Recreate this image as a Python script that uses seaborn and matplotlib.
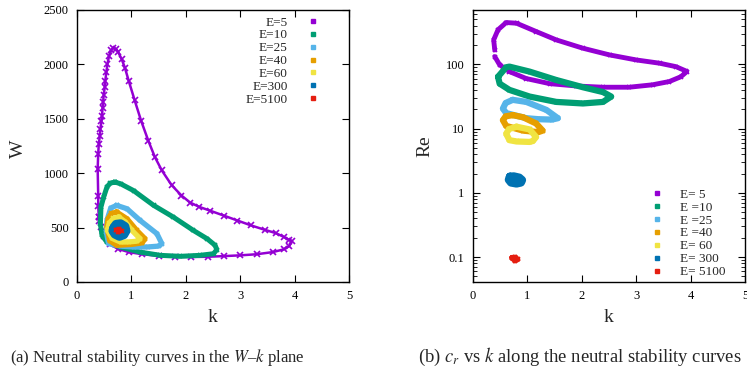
import numpy as np
import pandas as pd
import matplotlib
matplotlib.use("Agg")
import matplotlib.pyplot as plt
from matplotlib.lines import Line2D
from matplotlib.ticker import FixedLocator, NullFormatter, LogLocator
import seaborn as sns

# ---------------- data ----------------
energies = ["5", "10", "25", "40", "60", "300", "5100"]
colors = ["#9400D3", "#009E73", "#56B4E9", "#E69F00", "#F0E442", "#0072B2", "#E51E10"]
labels_a = ["E=5", "E=10", "E=25", "E=40", "E=60", "E=300", "E=5100"]
labels_b = ["E= 5", "E =10", "E =25", "E =40", "E= 60", "E= 300", "E= 5100"]

# panel (a): W vs k
k5_a = [0.40, 0.39, 0.39, 0.38, 0.39, 0.40, 0.42, 0.43, 0.45, 0.46, 0.47, 0.48, 0.49, 0.51,
        0.52, 0.54, 0.56, 0.59, 0.63, 0.67, 0.72, 0.76, 0.82, 0.88, 0.95, 1.06, 1.18, 1.31,
        1.43, 1.56, 1.74, 1.92, 2.08, 2.25, 2.45, 2.70, 2.95, 3.20, 3.45, 3.65, 3.80, 3.90,
        3.95, 3.90, 3.80, 3.60, 3.30, 3.00, 2.70, 2.40, 2.10, 1.80, 1.50, 1.20, 0.95, 0.75,
        0.60, 0.50, 0.44, 0.41, 0.40]
W5_a = [600, 700, 790, 1040, 1180, 1265, 1345, 1410, 1480, 1530, 1600, 1650, 1715, 1790,
        1850, 1930, 2005, 2080, 2130, 2155, 2140, 2110, 2050, 1970, 1850, 1670, 1480, 1300,
        1150, 1025, 890, 795, 730, 690, 655, 610, 565, 520, 480, 450, 415, 385,
        375, 330, 300, 275, 255, 245, 238, 232, 230, 232, 240, 255, 275, 305,
        350, 420, 510, 560, 600]
k10_a = [0.70, 0.80, 1.04, 1.41, 1.77, 2.14, 2.39, 2.54, 2.57, 2.51, 2.26, 1.90, 1.53, 1.16,
         0.80, 0.55, 0.46, 0.43, 0.44, 0.49, 0.55, 0.61, 0.70]
W10_a = [918, 903, 840, 704, 597, 474, 398, 337, 297, 260, 245, 236, 245, 275,
         321, 367, 428, 535, 689, 780, 872, 909, 918]
k25_a = [0.73, 0.92, 1.16, 1.47, 1.56, 1.50, 1.30, 1.04, 0.80, 0.58, 0.54, 0.55, 0.62, 0.73]
W25_a = [704, 673, 566, 444, 352, 330, 322, 321, 330, 352, 460, 566, 680, 704]
k40_a = [0.73, 0.92, 1.10, 1.25, 1.20, 1.00, 0.73, 0.60, 0.55, 0.57, 0.63, 0.73]
W40_a = [643, 581, 474, 398, 360, 345, 337, 380, 505, 580, 630, 643]
k60_a = [0.77, 0.89, 1.01, 1.16, 1.10, 0.95, 0.80, 0.65, 0.56, 0.59, 0.67, 0.77]
W60_a = [597, 551, 474, 398, 375, 368, 367, 400, 474, 540, 585, 597]
k300_a = [0.68, 0.72, 0.80, 0.88, 0.90, 0.86, 0.78, 0.70, 0.66, 0.68]
W300_a = [500, 530, 535, 510, 470, 435, 420, 440, 470, 500]
k5100_a = [0.72, 0.78, 0.82, 0.76, 0.72]
W5100_a = [480, 490, 470, 455, 480]

# panel (b): Re vs k
k5_b = [0.40, 0.38, 0.46, 0.61, 0.80, 1.16, 1.53, 2.02, 2.51, 3.00, 3.43, 3.73, 3.91, 3.93,
        3.82, 3.61, 3.30, 2.87, 2.39, 1.90, 1.41, 0.98, 0.67, 0.49, 0.40]
Re5_b = [167, 240, 345, 447, 436, 324, 240, 178, 140, 117, 104, 92, 79, 77,
         64, 54, 48, 44, 44, 46, 50, 60, 77, 98, 132]
k10_b = [0.46, 0.61, 0.67, 1.04, 1.53, 2.02, 2.39, 2.54, 2.39, 2.02, 1.53, 1.04, 0.67, 0.49, 0.46]
Re10_b = [64, 90, 92, 77, 57, 44, 37, 31.5, 26, 24.6, 26, 31.5, 40, 50, 64]
k25_b = [0.73, 0.98, 1.35, 1.56, 1.45, 1.20, 0.98, 0.61, 0.55, 0.60, 0.73]
Re25_b = [28, 26, 19.5, 14.5, 13.8, 14.0, 14.5, 17.4, 20.5, 25, 28]
k40_b = [0.73, 0.92, 1.16, 1.28, 1.20, 0.92, 0.61, 0.55, 0.60, 0.73]
Re40_b = [16.2, 15, 12, 9.3, 8.8, 9.3, 11, 13.5, 15.5, 16.2]
k60_b = [0.80, 1.04, 1.16, 1.10, 1.04, 0.80, 0.67, 0.61, 0.66, 0.80]
Re60_b = [10.7, 9.7, 7.4, 6.4, 6.2, 6.3, 6.6, 8.3, 9.8, 10.7]
k300_b = [0.68, 0.75, 0.85, 0.90, 0.88, 0.80, 0.70, 0.66, 0.68]
Re300_b = [1.78, 1.80, 1.72, 1.58, 1.45, 1.40, 1.45, 1.60, 1.78]
k5100_b = [0.72, 0.78, 0.82, 0.77, 0.72]
Re5100_b = [0.098, 0.099, 0.092, 0.088, 0.098]

series_a = [(k5_a, W5_a), (k10_a, W10_a), (k25_a, W25_a), (k40_a, W40_a),
            (k60_a, W60_a), (k300_a, W300_a), (k5100_a, W5100_a)]
series_b = [(k5_b, Re5_b), (k10_b, Re10_b), (k25_b, Re25_b), (k40_b, Re40_b),
            (k60_b, Re60_b), (k300_b, Re300_b), (k5100_b, Re5100_b)]

# line widths (style, not data)
lw_a = [1.8, 3.6, 3.8, 3.8, 3.8, 6.5, 3.0]
lw_b = [3.5, 4.5, 4.5, 4.5, 4.5, 6.0, 4.0]

# ---------------- style ----------------
sns.set_theme(style="ticks")
plt.rcParams["font.family"] = ["Liberation Serif", "DejaVu Serif"]
plt.rcParams["mathtext.fontset"] = "stix"
plt.rcParams["axes.linewidth"] = 1.0

fig = plt.figure(figsize=(7.47, 3.75), dpi=100)
axA = fig.add_axes([77 / 747, 1 - 282 / 375, 272 / 747, 272 / 375])
axB = fig.add_axes([473 / 747, 1 - 282 / 375, 272 / 747, 272 / 375])


def draw(ax, series, lws, x_name, y_name, ms0):
    for i, ((xs, ys), c, lw, e) in enumerate(zip(series, colors, lws, energies)):
        df = pd.DataFrame({x_name: xs, y_name: ys})
        sns.lineplot(data=df, x=x_name, y=y_name, sort=False, estimator=None, ax=ax,
                     color=c, lw=lw, marker="x", ms=(ms0 if i == 0 else 3.0), mew=1.2, mec=c,
                     solid_capstyle="round", solid_joinstyle="round")


draw(axA, series_a, lw_a, "k", "W", 4.5)
draw(axB, series_b, lw_b, "k", "Re", 3.5)

for ax in (axA, axB):
    ax.set_xlim(0, 5)
    ax.set_xticks([0, 1, 2, 3, 4, 5])
    ax.tick_params(which="both", direction="in", top=True, right=True,
                   labelsize=9, colors="black")
    ax.tick_params(which="major", length=5, width=0.8, pad=6)
    ax.tick_params(which="minor", length=3, width=0.6)
    for s in ax.spines.values():
        s.set_color("black")
        s.set_linewidth(1.0)
    ax.set_xlabel("k", fontsize=14)
    ax.xaxis.set_label_coords(0.5, -0.1)

axA.set_ylim(0, 2500)
axA.set_yticks([0, 500, 1000, 1500, 2000, 2500])
axA.set_ylabel("W", fontsize=14)
axA.yaxis.set_label_coords(-0.185, 0.49)

axB.set_yscale("log")
axB.set_ylim(0.041, 700)
axB.yaxis.set_major_locator(FixedLocator([0.1, 1, 10, 100]))
axB.set_yticklabels(["0.1", "1", "10", "100"])
axB.yaxis.set_minor_locator(LogLocator(base=10, subs=np.arange(2, 10)))
axB.yaxis.set_minor_formatter(NullFormatter())
axB.set_ylabel("Re", fontsize=14)
axB.yaxis.set_label_coords(-0.145, 0.5)

# legends
hA = [Line2D([], [], ls="", marker="s", ms=3, color=c) for c in colors]
axA.legend(hA, labels_a, loc="upper right", bbox_to_anchor=(0.92, 1.006),
           markerfirst=False, frameon=False, fontsize=9.5, handlelength=1.0,
           handletextpad=1.4, labelspacing=0.05, borderaxespad=0.2)
axB.legend(hA, labels_b, loc="lower right", bbox_to_anchor=(0.957, -0.015),
           markerfirst=True, frameon=False, fontsize=9.5, handlelength=1.0,
           handletextpad=1.2, labelspacing=0.05, borderaxespad=0.2)

# captions
fig.text(10 / 747, 1 - 357 / 375, "(a) Neutral stability curves in the $W$\u2013$k$ plane",
         fontsize=12, ha="left", va="center")
fig.text(418 / 747, 1 - 357 / 375, "(b) $c_r$ vs $k$ along the neutral stability curves",
         fontsize=13.4, ha="left", va="center")

fig.savefig("out.png", dpi=100)
